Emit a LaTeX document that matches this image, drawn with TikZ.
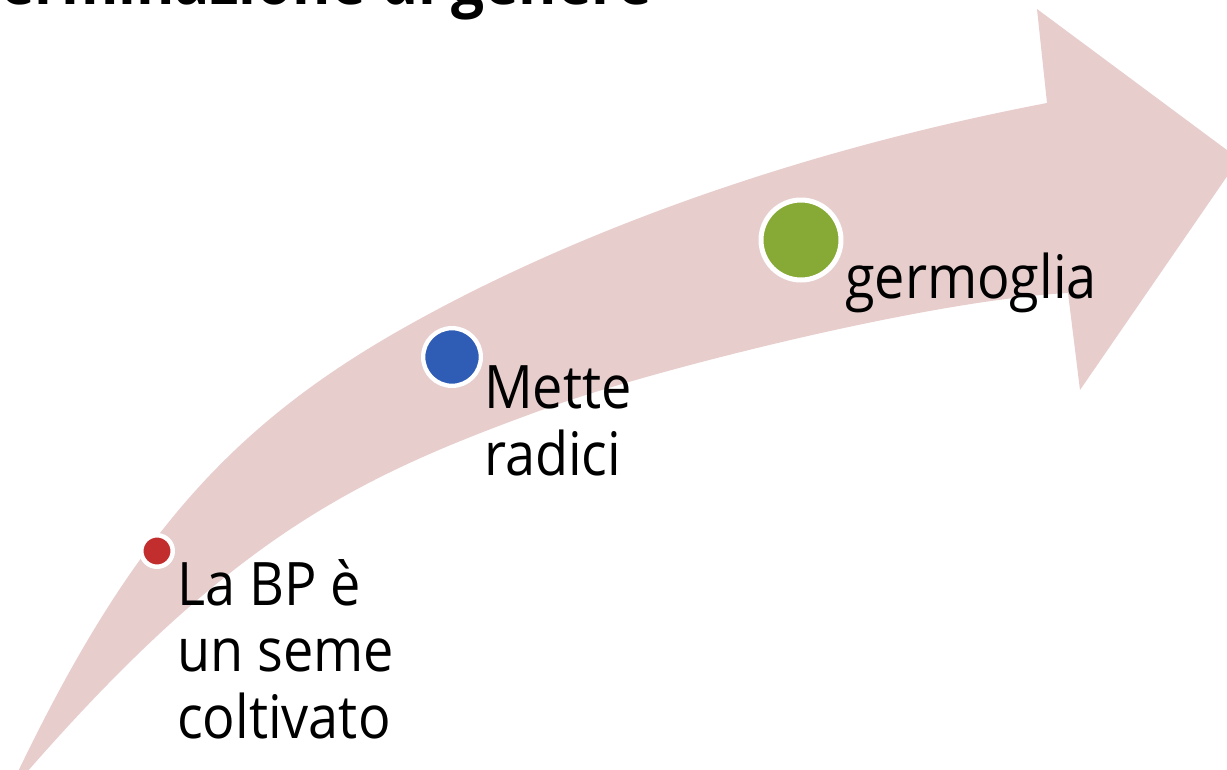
\documentclass[tikz,border=0pt]{standalone}
\usepackage{fontspec}
\setmainfont[FakeStretch=0.9]{Open Sans}
\definecolor{bandpink}{RGB}{232,205,205}
\definecolor{dotred}{RGB}{194,46,46}
\definecolor{dotblue}{RGB}{47,93,181}
\definecolor{dotgreen}{RGB}{134,170,53}
\tikzset{
  band/.style={fill=bandpink, draw=none},
  dot/.style={circle, draw=white, inner sep=0pt},
  lbl/.style={anchor=base west, align=left, inner sep=0pt, text=black,
    font=\fontsize{60}{66.5}\selectfont},
}
\begin{document}
\begin{tikzpicture}[x=1pt,y=-1pt]
\useasboundingbox (0,0) rectangle (1227,769);
\clip (0,0) rectangle (1227,769);
% curved arrow band
\fill[band] (14,780) .. controls (126,545) and (226,429) .. (400,330)
  .. controls (574,231) and (801,150) .. (1047,103)
  -- (1037,9) -- (1239,159) -- (1080,390) -- (1068,293)
  .. controls (930,300) and (653,370) .. (550,407)
  .. controls (362,475) and (235,532) .. (20,780) -- cycle;
% title (cut off at top)
\node[anchor=base east, inner sep=0pt, font=\fontsize{65}{70}\selectfont\bfseries] (title) at (652,4) {Determinazione di genere};
% dots
\node[dot, fill=dotred, minimum size=31.5pt, line width=4.5pt] (d1) at (157,551) {};
\node[dot, fill=dotblue, minimum size=57.7pt, line width=4.3pt] (d2) at (452,357) {};
\node[dot, fill=dotgreen, minimum size=80pt, line width=5pt] (d3) at (801,240) {};
% labels (anchored at the baseline of the last line)
\node[lbl] (t1) at (177,738) {La BP è\\un seme\\coltivato};
\node[lbl] (t2) at (484,475) {Mette\\radici};
\node[lbl] (t3) at (845,298) {germoglia};
\end{tikzpicture}
\end{document}
